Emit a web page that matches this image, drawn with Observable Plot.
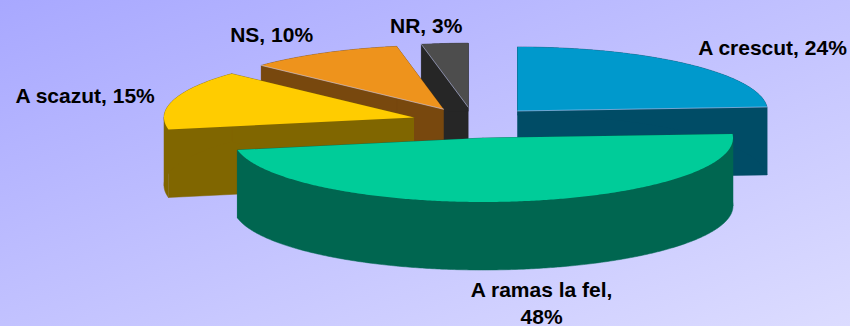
<!DOCTYPE html>
<html>
<head>
<meta charset="utf-8">
<script src="https://cdn.jsdelivr.net/npm/d3@7"></script>
<script src="https://cdn.jsdelivr.net/npm/@observablehq/plot@0.6"></script>
<style>
  html, body { margin: 0; padding: 0; width: 850px; height: 326px; overflow: hidden; }
  body { background: linear-gradient(to bottom right, #a8a8ff 0%, #dcdcff 100%); }
  svg { display: block; background: transparent !important; }
</style>
</head>
<body>
<div id="chart"></div>
<script>
// Data (clockwise from 12 o'clock)
const categories = ["A crescut", "A ramas la fel", "A scazut", "NS", "NR"];
const shares = [24, 48, 15, 10, 3];
const labels = ["A crescut, 24%", "A ramas la fel,\n48%", "A scazut, 15%", "NS, 10%", "NR, 3%"];

// Styling
const topColors = ["#0099cc", "#00cc99", "#ffcc00", "#ee931c", "#4d4d4d"];
const sideColors = ["#004c66", "#006650", "#806600", "#78480e", "#262626"];

// Layout of the exploded 3-D pie
const rx = 250, ry = 64, depth = 68;
const centerX = [517, 482.5, 413.5, 443, 467.7];
const centerY = [110.5, 137.5, 117, 108.7, 106.7];
const labelPullX = [1.49, 1.87, 1.37, 1.427, 1.787];
const labelPullY = [1.393, 2.585, 1.285, 1.35, 1.306];
const drawOrder = [4, 3, 2, 0, 1];
const rimEdge = { 0: "end", 3: "start", 4: "start" };

const total = d3.sum(shares);
const cum = d3.cumsum(shares);
const slices = categories.map((name, i) => ({
  name, i,
  a0: ((cum[i] - shares[i]) / total) * 2 * Math.PI,
  a1: (cum[i] / total) * 2 * Math.PI,
  cx: centerX[i], cy: centerY[i]
}));
const at = (s, a, dz = 0) => ({ x: s.cx + rx * Math.sin(a), y: s.cy - ry * Math.cos(a) + dz });
const arcBetween = (s, a0, a1, dz = 0) => {
  const n = Math.max(1, Math.ceil((a1 - a0) / 0.01));
  return d3.range(n + 1).map(k => at(s, a0 + (a1 - a0) * k / n, dz));
};
const apex = (s, dz = 0) => ({ x: s.cx, y: s.cy + dz });

const marks = [];
for (const i of drawOrder) {
  const s = slices[i];
  // Split the rim where the ellipse turns, so each band is a simple polygon.
  const turns = [Math.PI / 2, 3 * Math.PI / 2].filter(t => t > s.a0 && t < s.a1);
  const stops = [s.a0, ...turns, s.a1];
  const faces = [
    [apex(s), at(s, s.a0), at(s, s.a0, depth), apex(s, depth)],
    [apex(s), at(s, s.a1), at(s, s.a1, depth), apex(s, depth)],
    ...d3.pairs(stops).map(([a, b]) => [...arcBetween(s, a, b), ...arcBetween(s, a, b, depth).reverse()])
  ];
  const rows = faces.flatMap((face, f) => face.map(p => ({ ...p, f })));
  marks.push(Plot.line(rows, { x: "x", y: "y", z: "f", fill: sideColors[i], stroke: sideColors[i], strokeWidth: 0.5, curve: "linear" }));
  marks.push(Plot.line([apex(s), ...arcBetween(s, s.a0, s.a1)], { x: "x", y: "y", fill: topColors[i], stroke: "none", curve: "linear" }));
  if (rimEdge[i]) {
    const a = rimEdge[i] === "end" ? s.a1 : s.a0;
    marks.push(Plot.line([apex(s), at(s, a)], { x: "x", y: "y", stroke: "#c9cfff", strokeWidth: 0.7, strokeOpacity: 0.8 }));
  }
}

const labelRows = slices.map(s => {
  const mid = (s.a0 + s.a1) / 2;
  return {
    x: s.cx + labelPullX[s.i] * rx * Math.sin(mid),
    y: s.cy - labelPullY[s.i] * ry * Math.cos(mid),
    text: labels[s.i]
  };
});
marks.push(Plot.text(labelRows, {
  x: "x", y: "y", text: "text",
  fontFamily: "'Liberation Sans', Arial, sans-serif",
  fontWeight: "bold", fontSize: 21, lineHeight: 1.286,
  fill: "#000", textAnchor: "middle", lineAnchor: "middle"
}));

const chart = Plot.plot({
  width: 850, height: 326,
  margin: 0,
  x: { type: "linear", domain: [0, 850], range: [0, 850], axis: null },
  y: { type: "linear", domain: [0, 326], range: [0, 326], axis: null },
  style: { background: "transparent" },
  marks
});
document.getElementById("chart").appendChild(chart);
</script>
</body>
</html>
